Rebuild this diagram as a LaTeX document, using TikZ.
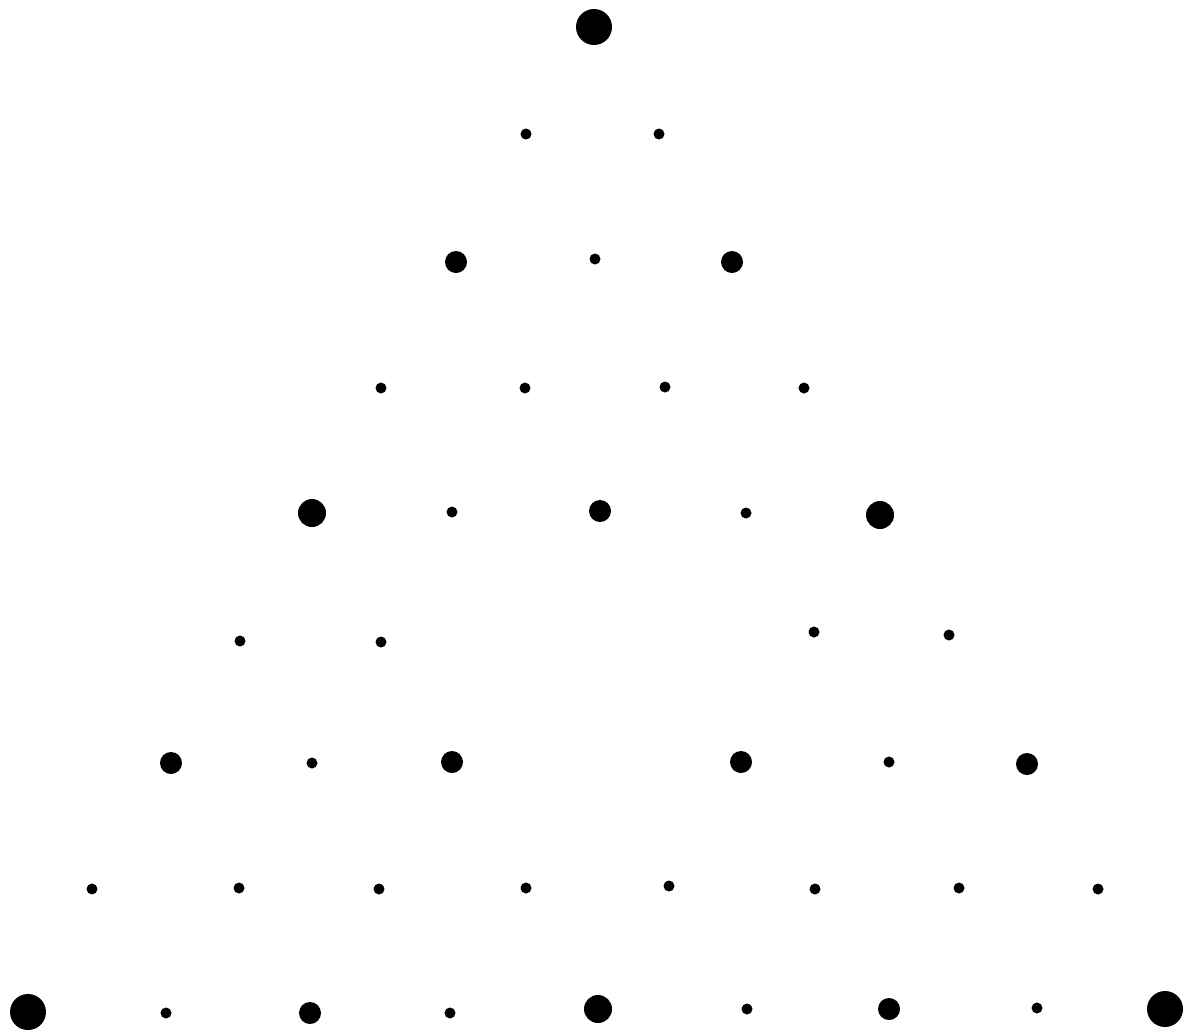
\documentclass[tikz,border=0pt]{standalone}
\usepackage{tikz}

\begin{document}
\begin{tikzpicture}[
  x=1pt, y=-1pt,
  dot/.style={circle, fill=black, draw=none, inner sep=0pt},
  hugedot/.style={dot, minimum size=36pt},
  bigdot/.style={dot, minimum size=28pt},
  middot/.style={dot, minimum size=22pt},
  smalldot/.style={dot, minimum size=11pt}]
\useasboundingbox (0,0) rectangle (1188,1029);
% corners of the three levels
\foreach \n/\x/\y in {t/594/27, l/28/1012, r/1165/1009}
  \node[hugedot] (h\n) at (\x,\y) {};
\foreach \n/\x/\y in {l/312/513, c/598/1009, r/880/515}
  \node[bigdot] (b\n) at (\x,\y) {};
\foreach \n/\x/\y in {a/456/262, b/732/262, c/600/511, d/171/763, e/452/762,
                      f/741/762, g/1027/764, h/310/1013, i/889/1009}
  \node[middot] (m\n) at (\x,\y) {};
% small points in between
\foreach \n/\x/\y in {1/526/134, 2/659/134, 3/595/259,
                      4/381/388, 5/525/388, 6/665/387, 7/804/388,
                      8/452/512, 9/746/513,
                      10/240/641, 11/381/642, 12/814/632, 13/949/635,
                      14/312/763, 15/889/762,
                      16/92/889, 17/239/888, 18/379/889, 19/526/888,
                      20/669/886, 21/815/889, 22/959/888, 23/1098/889,
                      24/166/1013, 25/450/1013, 26/747/1009, 27/1037/1008}
  \node[smalldot] (s\n) at (\x,\y) {};
\end{tikzpicture}
\end{document}
